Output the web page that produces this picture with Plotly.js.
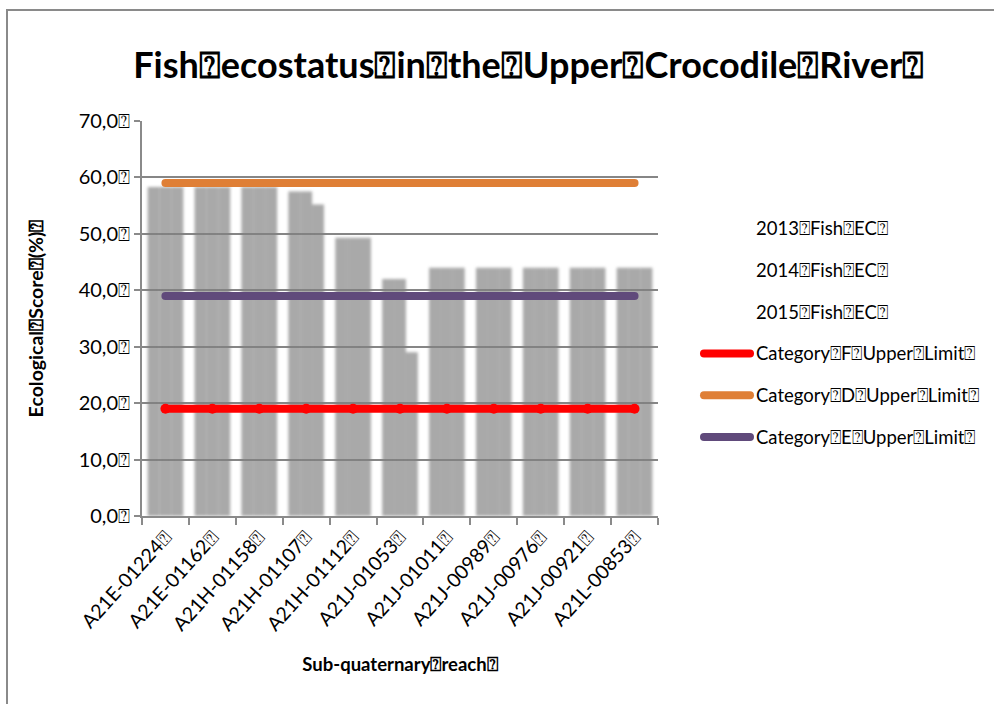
<!DOCTYPE html>
<html>
<head>
<meta charset="utf-8">
<script src="https://cdn.plot.ly/plotly-3.0.1.min.js"></script>
<style>
  html, body { margin: 0; padding: 0; background: #fff; }
  #wrap { position: relative; width: 994px; height: 704px; overflow: hidden; }
  #chart { position: absolute; left: 0; top: 0; width: 994px; height: 704px; }
  #frame { position: absolute; left: 6px; top: 9px; width: 1200px; height: 900px;
           border-left: 2px solid #8a8a8a; border-top: 2px solid #8a8a8a; pointer-events: none; }
  /* soft-edged bars */
  .barlayer { filter: blur(1.6px); }
  .scatterlayer .js-line { stroke-linecap: round; }
  .shapelayer path { stroke-linecap: round; }
</style>
</head>
<body>
<div id="wrap">
  <div id="chart"></div>
  <div id="frame"></div>
</div>
<script>
// Sub-quaternary reaches along the river
const reaches = ["A21E-01224⍰", "A21E-01162⍰", "A21H-01158⍰", "A21H-01107⍰", "A21H-01112⍰",
                 "A21J-01053⍰", "A21J-01011⍰", "A21J-00989⍰", "A21J-00976⍰", "A21J-00921⍰", "A21L-00853⍰"];

// Fish ecological category scores (%)
const fishEC2013 = [58.3, 58.3, 58.3, 57.5, 49.3, 42.0, 44.0, 44.0, 44.0, 44.0, 44.0];
const fishEC2014 = [58.3, 58.3, 58.3, 57.5, 49.3, 42.0, 44.0, 44.0, 44.0, 44.0, 44.0];
const fishEC2015 = [58.3, 58.3, 58.3, 55.2, 49.3, 29.0, 44.0, 44.0, 44.0, 44.0, 44.0];

// Category upper limits
const limitF = 19;
const limitD = 59;
const limitE = 39;

const barNames = ["2013⍰Fish⍰EC⍰", "2014⍰Fish⍰EC⍰", "2015⍰Fish⍰EC⍰"];
const lineNames = ["Category⍰F⍰Upper⍰Limit⍰", "Category⍰D⍰Upper⍰Limit⍰", "Category⍰E⍰Upper⍰Limit⍰"];

const yTickVals = [0, 10, 20, 30, 40, 50, 60, 70];
const yTickText = ["0,0⍰", "10,0⍰", "20,0⍰", "30,0⍰", "40,0⍰", "50,0⍰", "60,0⍰", "70,0⍰"];

const FONT = "Lato, 'Open Sans', sans-serif";
const barColor = "rgba(128,128,128,0.68)";
const lineColors = ["#ff0000", "#df7f36", "#604a7b"];

const barSeries = [fishEC2013, fishEC2014, fishEC2015];
const traces = barSeries.map((vals, i) => ({
  type: "bar", x: reaches, y: vals, name: barNames[i],
  marker: { color: barColor, line: { width: 0 } },
  showlegend: false, hoverinfo: "x+y"
}));

const limits = [limitF, limitD, limitE];
limits.forEach((v, i) => {
  traces.push({
    type: "scatter", mode: i === 0 ? "lines+markers" : "lines",
    x: reaches, y: reaches.map(() => v), name: lineNames[i],
    line: { color: lineColors[i], width: 8 },
    marker: { color: lineColors[i], size: 10 },
    showlegend: false
  });
});

// plot-area geometry in pixels, used for the hand-placed legend
const W = 994, H = 704;
const M = { l: 142, r: 336, t: 121, b: 188 };
const pw = W - M.l - M.r, ph = H - M.t - M.b;
const px2x = px => (px - M.l) / pw;
const py2y = py => (H - M.b - py) / ph;

const legendNames = barNames.concat(lineNames);
const legendTop = 228, legendStep = 41.8;
const annotations = [];
const shapes = [];
legendNames.forEach((name, i) => {
  const py = legendTop + i * legendStep;
  annotations.push({
    xref: "paper", yref: "paper", x: px2x(754), y: py2y(py),
    xanchor: "left", yanchor: "middle", showarrow: false,
    text: name, font: { family: FONT, size: 18.5, color: "#000" }
  });
  if (i >= 3) {
    shapes.push({
      type: "line", xref: "paper", yref: "paper",
      x0: px2x(704), x1: px2x(750), y0: py2y(py), y1: py2y(py),
      line: { color: lineColors[i - 3], width: 8 }
    });
  }
});

const layout = {
  width: W, height: H,
  margin: M,
  paper_bgcolor: "#fff", plot_bgcolor: "#fff",
  font: { family: FONT, color: "#000" },
  showlegend: false,
  barmode: "group", bargap: 0.24, bargroupgap: 0,
  title: {
    text: "Fish⍰ecostatus⍰in⍰the⍰Upper⍰Crocodile⍰River⍰",
    font: { family: FONT, size: 36, weight: "bold", color: "#000" },
    x: 0.532, xanchor: "center", xref: "container",
    y: 1 - 65 / H, yanchor: "middle", yref: "container"
  },
  xaxis: {
    type: "category", range: [-0.5, reaches.length - 0.5], tickangle: -48,
    tickfont: { family: FONT, size: 19.5, color: "#000" },
    ticks: "outside", tickson: "boundaries", ticklen: 7, tickwidth: 2, tickcolor: "#8a8a8a",
    showline: true, linecolor: "#8a8a8a", linewidth: 2,
    showgrid: false, zeroline: false,
    title: { text: "<b>Sub-quaternary⍰reach⍰</b>", font: { family: FONT, size: 18.5, color: "#000" }, standoff: 24 }
  },
  yaxis: {
    range: [0, 70], tickvals: yTickVals, ticktext: yTickText,
    tickfont: { family: FONT, size: 20, color: "#000" },
    ticks: "outside", ticklen: 6, tickwidth: 2, tickcolor: "#8a8a8a",
    showline: true, linecolor: "#8a8a8a", linewidth: 2,
    showgrid: true, gridcolor: "#868686", gridwidth: 2, zeroline: false,
    title: { text: "<b>Ecological⍰Score⍰(%)⍰</b>", font: { family: FONT, size: 19.5, color: "#000" }, standoff: 30 }
  },
  annotations: annotations,
  shapes: shapes
};

Plotly.newPlot("chart", traces, layout, { displayModeBar: false, staticPlot: true });
</script>
</body>
</html>
